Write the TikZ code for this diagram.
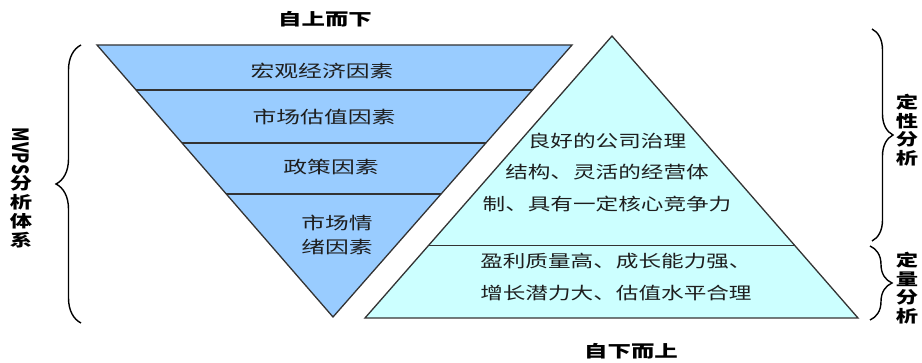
\documentclass[tikz,border=0pt]{standalone}
\usepackage{fontspec}
\setmainfont{Noto Sans CJK SC}
\usetikzlibrary{decorations.pathreplacing}
\definecolor{invblue}{HTML}{99CCFF}
\definecolor{upcyan}{HTML}{CCFFFF}
\definecolor{edge}{HTML}{333333}
\definecolor{txt}{HTML}{1E1E1E}
\begin{document}
\begin{tikzpicture}[x=1pt,y=-1pt,
  tritext/.style={inner sep=0pt,text=txt,xscale=1.4,font=\fontsize{17}{24}\selectfont},
  uptext/.style={inner sep=0pt,text=txt,xscale=1.33,font=\fontsize{17}{31.5}\selectfont},
  boldlbl/.style={inner sep=0pt,text=black,xscale=1.42,font=\fontsize{16.5}{20}\selectfont\bfseries},
  vlbl/.style={inner sep=0pt,text=black,xscale=1.35,align=center,font=\fontsize{16.5}{18.5}\selectfont\bfseries},
  bracestyle/.style={draw=black,line width=1.4pt,decorate},
  edgeline/.style={draw=edge,line width=1.3pt}]
\useasboundingbox (0,0) rectangle (922,363);
% inverted triangle
\coordinate (iA) at (97,45);
\coordinate (iB) at (572,45);
\coordinate (iC) at (333,317);
\fill[invblue] (iA) -- (iB) -- (iC) -- cycle;
\begin{scope}
\clip (iA) -- (iB) -- (iC) -- cycle;
\draw[edgeline] (90,90) -- (580,90);
\draw[edgeline] (90,143) -- (580,143);
\draw[edgeline] (90,194) -- (580,194);
\end{scope}
\draw[edgeline,line join=miter] (iA) -- (iB) -- (iC) -- cycle;
% upright triangle
\coordinate (uA) at (612,36);
\coordinate (uB) at (858,318);
\coordinate (uC) at (365,318);
\fill[upcyan] (uA) -- (uB) -- (uC) -- cycle;
\begin{scope}
\clip (uA) -- (uB) -- (uC) -- cycle;
\draw[edgeline] (360,245.5) -- (870,245.5);
\end{scope}
\draw[edgeline,line join=miter] (uA) -- (uB) -- (uC) -- cycle;
% texts in inverted triangle
\node[tritext] (t1) at (322,71) {宏观经济因素};
\node[tritext] (t2) at (324,117) {市场估值因素};
\node[tritext] (t3) at (331,167) {政策因素};
\node[tritext,align=center] (t4) at (337,235) {市场情\\绪因素};
% texts in upright triangle
\node[uptext,align=center] (u1) at (607,172) {良好的公司治理\\结构、灵活的经营体\\制、具有一定核心竞争力};
\node[uptext,align=left,anchor=west] (u2) at (480,277) {盈利质量高、成长能力强、\\增长潜力大、估值水平合理};
% top and bottom labels
\node[boldlbl] (top) at (325,19) {自上而下};
\node[boldlbl] (bot) at (631,351) {自下而上};
% braces
\coordinate (lb1) at (81,323);
\coordinate (lb2) at (81,45);
\draw[bracestyle,decoration={brace,amplitude=25pt}] (lb1) -- (lb2);
\coordinate (rb1) at (872,29);
\coordinate (rb2) at (872,241);
\draw[bracestyle,decoration={brace,amplitude=21pt}] (rb1) -- (rb2);
\coordinate (rc1) at (870,246);
\coordinate (rc2) at (870,320);
\draw[bracestyle,decoration={brace,amplitude=22pt}] (rc1) -- (rc2);
% vertical labels
\node[vlbl,font=\fontsize{16.5}{19}\selectfont\bfseries] (mvps) at (21,188) {\rotatebox{-90}{MVPS}\\分\\析\\体\\系};
\node[vlbl] (dx) at (907,130) {定\\性\\分\\析};
\node[vlbl] (dl) at (907,288) {定\\量\\分\\析};
\end{tikzpicture}
\end{document}
